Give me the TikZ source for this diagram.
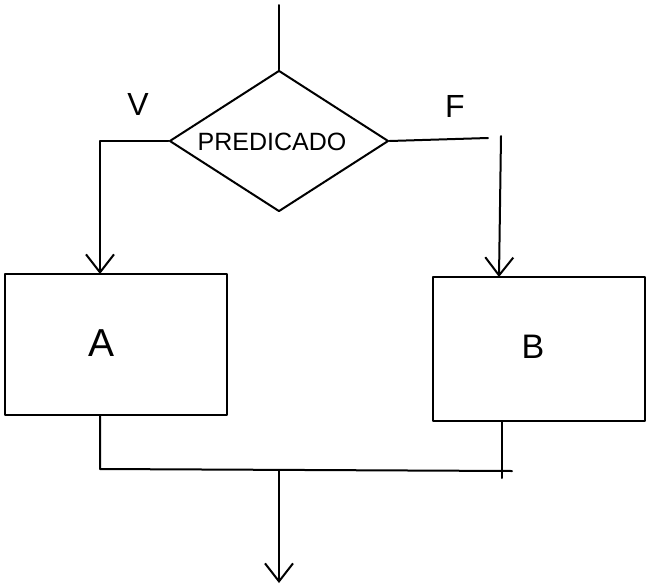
\documentclass[tikz,border=0pt]{standalone}
\usepackage{fontspec}
\setmainfont{Liberation Sans}
\usetikzlibrary{shapes.geometric,arrows.meta}
\begin{document}
\begin{tikzpicture}[x=1pt,y=-1pt,
  ln/.style={line width=2pt,line cap=round,line join=round},
  arr/.style={ln,-{Straight Barb[length=18pt,width=28pt,line width=2pt]}},
  decision/.style={ln,draw,shape=diamond,minimum width=219pt,minimum height=141pt,inner sep=0pt},
  procbox/.style={ln,draw,rectangle,inner sep=0pt},
  lbl/.style={inner sep=0pt}]
\useasboundingbox (0,0) rectangle (646,587);
% decision
\node[decision] (d) at (279,141) {};
\node[lbl,font=\fontsize{25}{25}\selectfont] (pred) at (272,142) {PREDICADO};
% boxes
\node[procbox,minimum width=222pt,minimum height=141pt] (A) at (116,344.5) {};
\node[procbox,minimum width=212pt,minimum height=144pt] (B) at (539,349) {};
\node[lbl,font=\fontsize{39}{39}\selectfont] (ta) at (102,343) {A};
\node[lbl,font=\fontsize{34}{34}\selectfont] (tb) at (533,347) {B};
% branch labels
\node[lbl,font=\fontsize{32}{32}\selectfont] (v) at (138,104) {V};
\node[lbl,font=\fontsize{32}{32}\selectfont] (f) at (455,106) {F};
% helper coordinates
\coordinate (top) at (279,5);
\coordinate (ain) at (100,274);
\coordinate (aout) at (100,415);
\coordinate (fend) at (488,138);
\coordinate (fstart) at (501,136);
\coordinate (bin) at (499,277);
\coordinate (bout) at (502,421);
\coordinate (bend) at (502,478);
\coordinate (jl) at (100,469);
\coordinate (jr) at (512,471);
\coordinate (jm) at (279,470);
\coordinate (out) at (279,583);
% connectors
\draw[ln] (top) -- (d.north);
\draw[arr] (d.west) -| (ain);
\draw[ln] (d.east) -- (fend);
\draw[arr] (fstart) -- (bin);
\draw[ln] (aout) -- (jl) -- (jr);
\draw[ln] (bout) -- (bend);
\draw[arr] (jm) -- (out);
\end{tikzpicture}
\end{document}
